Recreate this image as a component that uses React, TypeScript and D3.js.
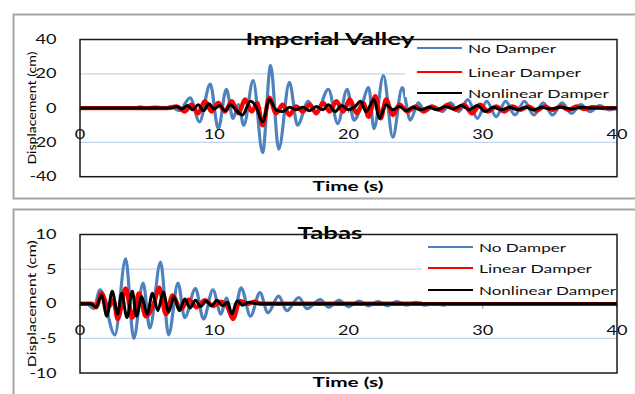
import React from 'react';
import * as d3 from 'd3';

type Pt = [number, number];

// shared axis / legend content
const timeTicks = [0, 10, 20, 30, 40];
const seriesNames = ['No Damper', 'Linear Damper', 'Nonlinear Damper'];
const seriesColors = ['#4f81bd', '#ff0000', '#000000'];
const seriesWidths = [3.2, 4.4, 3];

// Imperial Valley (cm)
const imperialTicks = [-40, -20, 0, 20, 40];
const imperialNoDamper: Pt[] = [
  [0, 0], [4, 0], [4.5, 0.8], [5, 0], [5.6, 0.8], [6.2, 0], [6.8, 0.5], [7.4, -1.5], [8.2, 6], [8.9, -8],
  [9.7, 14], [10.3, -12], [10.9, 11], [11.4, -6], [11.8, 2], [12.2, -10], [12.9, 16], [13.6, -26], [14.2, 25],
  [14.8, -24], [15.6, 15], [16.2, -10], [17, 4], [17.6, -3], [18.5, 11], [19.2, -9], [19.9, 11], [20.4, -7],
  [21, 2], [21.5, 12], [21.9, -12], [22.6, 19], [23.3, -17], [24, 12], [24.6, -7], [25.2, 3], [25.7, -2],
  [26.3, 1], [27, -2], [27.6, 3], [28.2, -2], [28.9, 5], [29.6, -6], [30.3, 4], [31, -5], [31.7, 4], [32.4, -4],
  [33.1, 4], [33.8, -4], [34.5, 3], [35.2, -4], [35.9, 3], [36.6, -3], [37.3, 2], [38, -2], [38.7, 1.5],
  [39.4, -1], [40, 0],
];
const imperialLinear: Pt[] = [
  [0, 0], [6.5, 0], [7.2, 1], [7.8, -2], [8.3, 2], [8.8, -3], [9.3, 4], [9.8, -2], [10.3, 3], [10.8, -2],
  [11.3, 4], [11.8, -3], [12.3, 5], [12.8, -2], [13.2, 3], [13.6, -10], [14.1, 6], [14.6, -3], [15.1, 2],
  [15.6, -4], [16.1, 1], [16.6, -2], [17.1, 2], [17.6, -3], [18.1, 3], [18.6, -2], [19.1, 4], [19.6, -2],
  [20.1, 5], [20.6, -3], [21.1, 3], [21.5, -5], [22, 7], [22.4, -6], [22.8, 5], [23.3, -4], [23.8, 2],
  [24.4, -2], [25, 1], [25.6, -2], [26.2, 1], [26.8, -1], [27.4, 2], [28, -1], [28.6, 2], [29.2, -3],
  [29.8, 2], [30.4, -2], [31, 1], [31.6, -2], [32.2, 1], [32.8, -1], [33.4, 1], [34, -1.5], [34.6, 1],
  [35.2, -1], [35.8, 1], [36.4, -1], [37, 1], [37.6, -0.5], [38.2, 0.5], [39, 0], [40, 0],
];
const imperialNonlinear: Pt[] = [
  [0, 0], [6.8, 0], [7.2, 1], [7.6, -0.5], [8, 1.5], [8.4, -1], [8.8, 2], [9.2, -1.5], [9.6, 2.5], [10, -0.5],
  [10.4, 1.5], [10.8, -1.5], [11.2, 2], [11.6, -1], [12.1, -4], [12.7, 4], [13.1, 1], [13.6, -8], [14.1, 5],
  [14.6, -1], [15.1, -2], [15.6, 0.5], [16.1, -1], [16.6, 0.5], [17.1, -1.5], [17.6, 1], [18.1, -1], [18.5, 2],
  [19, -2], [19.5, 1.5], [20, -1], [20.5, 1], [20.9, 4], [21.3, -2], [21.9, 5], [22.3, -6], [22.8, 2],
  [23.3, -1], [23.8, 1], [24.3, -1.5], [24.8, 0.5], [25.4, -1], [26, 0.5], [26.6, -1], [27.2, 1], [27.8, -0.5],
  [28.4, 1.5], [29, -1], [29.6, 1.5], [30.2, -2], [30.8, 0.5], [31.4, -1], [32, 0.5], [32.6, -1], [33.2, 0.5],
  [33.8, -1], [34.4, 0.5], [35, -0.5], [35.8, 0.5], [36.6, -0.5], [37.4, 0.5], [38.2, 0], [40, 0],
];

// Tabas (cm)
const tabasTicks = [-10, -5, 0, 5, 10];
const tabasNoDamper: Pt[] = [
  [0, 0], [0.5, 0], [1, -0.7], [1.5, 2], [2.6, -4.5], [3.4, 6.5], [4, -5], [4.7, 3], [5.2, -3.5], [6, 6],
  [6.6, -4.5], [7.3, 3], [7.8, -2], [8.6, 2.2], [9.2, -2.2], [9.9, 2], [10.5, -1.5], [10.9, 0.8], [11.4, -2.2],
  [12, 2.3], [12.7, -1.8], [13.4, 1.6], [14, -1.3], [14.8, 1.1], [15.4, -1], [16.3, 0.9], [16.9, -0.7],
  [17.9, 0.6], [18.5, -0.5], [19.3, 0.5], [20, -0.4], [20.8, 0.4], [21.5, -0.3], [22.2, 0.3], [22.9, -0.3],
  [23.6, 0.3], [24.3, -0.2], [25, 0.2], [25.7, -0.2], [26.4, 0.2], [27.1, -0.2], [27.8, 0.1], [28.5, -0.1],
  [29.5, 0], [40, 0],
];
const tabasLinear: Pt[] = [
  [0, 0], [0.9, 0], [1.2, -0.5], [1.6, 1.5], [2.1, -0.5], [2.5, 0.5], [2.8, -2.2], [3.4, 2.2], [3.9, -2],
  [4.4, 1.5], [4.9, -1.8], [5.5, 0], [5.9, 2.3], [6.4, -1.5], [6.9, 1.2], [7.5, -0.8], [8.1, 0.6], [8.7, -0.5],
  [9.3, 0.5], [9.9, -0.3], [10.5, 0.3], [11, -0.5], [11.4, -2.2], [11.9, 0.4], [12.5, 0], [13, 0.3], [13.5, 0],
  [40, 0],
];
const tabasNonlinear: Pt[] = [
  [0, 0], [0.8, 0], [1.2, -0.5], [1.6, 1.2], [2, -1.8], [2.4, 1.8], [2.8, -1.5], [3.1, 1.5], [3.5, -2],
  [3.9, 1.8], [4.2, -1.8], [4.6, 1], [5, -1.5], [5.4, 1.5], [5.8, -1], [6.2, 1.7], [6.6, -1.2], [7, 1],
  [7.4, -1], [7.8, 0.7], [8.2, -0.6], [8.6, 0.5], [9, -0.4], [9.4, 0.4], [9.8, -0.3], [10.2, 0.5], [10.6, -0.3],
  [11, 0.2], [11.3, -1.5], [11.7, 0.4], [12.1, -0.2], [12.6, 0.2], [13.2, 0], [40, 0],
];

const FONT = 'Lato, "Liberation Sans", sans-serif';

// the reference text is stretched sideways, so widths are forced with textLength
const numWidth = (v: number) => String(v).split('').reduce((s, c) => s + (c === '-' ? 6 : 10.5), 0);

type PanelProps = {
  title: string;
  titleW: number;
  titleY: number;
  top: number;
  bottom: number;
  yTicks: number[];
  series: Pt[][];
  xLabelY: number;
  timeY: number;
  yLabelW: number;
  legend: { x: number; y: number; w: number; h: number; lineX: number; rows: number[]; widths: number[] };
};

const Panel = (p: PanelProps) => {
  const x = d3.scaleLinear().domain([0, 40]).range([80, 617]);
  const yExt = d3.extent(p.yTicks) as [number, number];
  const y = d3.scaleLinear().domain(yExt).range([p.bottom, p.top]);
  const line = d3.line<Pt>().x(d => x(d[0])).y(d => y(d[1])).curve(d3.curveMonotoneX);
  const mid = (p.top + p.bottom) / 2;
  const L = p.legend;
  return (
    <g>
      {p.yTicks.filter(t => t !== yExt[0] && t !== yExt[1]).map(t => (
        <line key={t} x1={80} x2={617} y1={y(t)} y2={y(t)} stroke="#c3d4ec" strokeWidth={1.2} />
      ))}
      {timeTicks.map(t => (
        <line key={t} x1={x(t)} x2={x(t)} y1={y(0)} y2={y(0) + 5} stroke="#999" strokeWidth={1} />
      ))}
      {p.series.map((s, i) => (
        <path key={i} d={line(s) || ''} fill="none" stroke={seriesColors[i]}
          strokeWidth={seriesWidths[i]} strokeLinejoin="round" />
      ))}
      <rect x={L.x} y={L.y} width={L.w} height={L.h} fill="#fff" />
      {seriesNames.map((n, i) => (
        <g key={n}>
          <line x1={L.lineX} x2={L.lineX + 45} y1={L.rows[i]} y2={L.rows[i]} stroke={seriesColors[i]} strokeWidth={2} />
          <text x={L.lineX + 51} y={L.rows[i] + 4.5} fontSize={11.5} fontFamily={FONT} fill="#111"
            textLength={L.widths[i]} lengthAdjust="spacingAndGlyphs">{n}</text>
        </g>
      ))}
      <text x={330} y={p.titleY} textAnchor="middle" fontSize={17} fontWeight="bold" fontFamily={FONT}
        textLength={p.titleW} lengthAdjust="spacingAndGlyphs">{p.title}</text>
      <rect x={80} y={p.top} width={537} height={p.bottom - p.top} fill="none" stroke="#1a1a1a" strokeWidth={1.5} />
      {p.yTicks.map(t => (
        <text key={t} x={56.5} y={y(t) + 4.5} textAnchor="end" fontSize={13} fontFamily={FONT} fill="#111"
          textLength={numWidth(t)} lengthAdjust="spacingAndGlyphs">{t}</text>
      ))}
      {timeTicks.map(t => (
        <text key={t} x={x(t)} y={p.xLabelY} textAnchor="middle" fontSize={13} fontFamily={FONT} fill="#111"
          textLength={numWidth(t)} lengthAdjust="spacingAndGlyphs">{t}</text>
      ))}
      <text x={348} y={p.timeY} textAnchor="middle" fontSize={13} fontWeight="bold" fontFamily={FONT}
        textLength={71} lengthAdjust="spacingAndGlyphs">Time (s)</text>
      <text transform={`translate(35.5,${mid}) rotate(-90)`} textAnchor="middle" fontSize={12} fontFamily={FONT}
        textLength={p.yLabelW} lengthAdjust="spacingAndGlyphs">Displacement (cm)</text>
    </g>
  );
};

export default function App() {
  return (
    <svg width={635} height={394} style={{ position: 'absolute', left: 0, top: 0, background: '#fff' }}>
      <rect x={13.5} y={14.5} width={640} height={184} fill="#fff" stroke="#a6a6a6" strokeWidth={2} />
      <rect x={13.5} y={209.5} width={640} height={200} fill="#fff" stroke="#a6a6a6" strokeWidth={2} />
      <Panel
        title="Imperial Valley" titleW={169} titleY={44.5}
        top={39.5} bottom={176.7} yTicks={imperialTicks}
        series={[imperialNoDamper, imperialLinear, imperialNonlinear]}
        xLabelY={139} timeY={191} yLabelW={113}
        legend={{ x: 405, y: 41, w: 211, h: 56, lineX: 417, rows: [48, 72, 93], widths: [88, 113, 141] }}
      />
      <Panel
        title="Tabas" titleW={65} titleY={239}
        top={234.5} bottom={373} yTicks={tabasTicks}
        series={[tabasNoDamper, tabasLinear, tabasNonlinear]}
        xLabelY={335} timeY={387} yLabelW={127}
        legend={{ x: 422, y: 235, w: 194, h: 67, lineX: 428, rows: [247, 268, 290], widths: [87, 113, 137] }}
      />
    </svg>
  );
}
